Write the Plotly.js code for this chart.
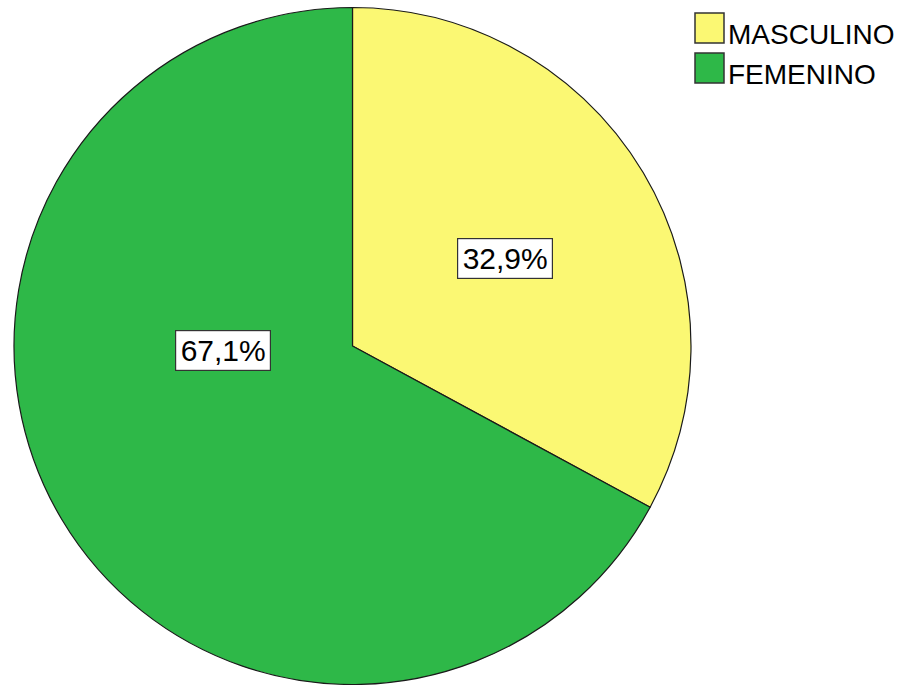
<!DOCTYPE html>
<html>
<head>
<meta charset="utf-8">
<script src="https://cdn.plot.ly/plotly-3.0.1.min.js"></script>
<style>html,body{margin:0;padding:0;background:#fff;}#chart{width:908px;height:685px;}</style>
</head>
<body>
<div id="chart"></div>
<script>
const categories = ["MASCULINO", "FEMENINO"];
const percentages = [32.9, 67.1];
const sliceColors = ["#FBF873", "#2EB848"];

const fmt = v => v.toFixed(1).replace('.', ',') + '%';

// label box positions (paper fractions) – layout only
const labelPos = [[0.5562, 0.6226], [0.2456, 0.489]];

const annotations = percentages.map((v, i) => ({
  xref: 'paper', yref: 'paper',
  x: labelPos[i][0], y: labelPos[i][1],
  xanchor: 'center', yanchor: 'middle',
  text: fmt(v), showarrow: false,
  width: 90, height: 35,
  font: {family: 'Liberation Sans, Arial, sans-serif', size: 30, color: '#000'},
  bgcolor: '#ffffff', bordercolor: '#333333', borderwidth: 1.2, borderpad: 2
}));

// custom legend
const W = 908, H = 685;
const shapes = [];
categories.forEach((c, i) => {
  const top = 13 + i * 40;
  shapes.push({
    type: 'rect', xref: 'paper', yref: 'paper',
    x0: 695 / W, x1: 724 / W, y0: 1 - (top + 30) / H, y1: 1 - top / H,
    fillcolor: sliceColors[i], line: {color: '#333333', width: 1.5}
  });
  annotations.push({
    xref: 'paper', yref: 'paper', x: 726 / W, y: 1 - (top + 21) / H,
    xanchor: 'left', yanchor: 'middle', showarrow: false, text: c,
    font: {family: 'Liberation Sans, Arial, sans-serif', size: 28, color: '#000'}
  });
});

const data = [{
  type: 'pie',
  labels: categories,
  values: percentages,
  sort: false,
  direction: 'clockwise',
  rotation: 0,
  marker: {colors: sliceColors, line: {color: '#1a1a1a', width: 1.2}},
  textinfo: 'none',
  hoverinfo: 'label+percent',
  showlegend: false,
  domain: {x: [13 / W, 692 / W], y: [1 - 684.5 / H, 1 - 7.5 / H]}
}];

const layout = {
  width: 908, height: 685,
  margin: {l: 0, r: 0, t: 0, b: 0},
  paper_bgcolor: '#ffffff', plot_bgcolor: '#ffffff',
  showlegend: false,
  annotations: annotations,
  shapes: shapes
};

Plotly.newPlot('chart', data, layout, {displayModeBar: false, staticPlot: true});
</script>
</body>
</html>
